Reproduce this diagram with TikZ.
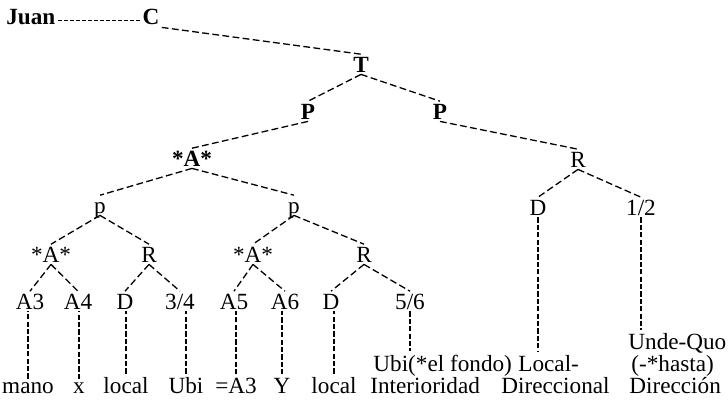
\documentclass[tikz,border=0pt]{standalone}
\usepackage{fontspec}
\setmainfont{Liberation Serif}
\begin{document}
\begin{tikzpicture}[x=0.5pt,y=-0.5pt,
  lbl/.style={font=\fontsize{11.6}{13}\selectfont, inner sep=1pt, anchor=base,
              text height=7.7pt, text depth=0pt},
  blbl/.style={lbl, font=\fontsize{11.6}{13}\selectfont\bfseries},
  word/.style={font=\fontsize{11.6}{13}\selectfont, inner sep=1.5pt},
  edge/.style={draw, line width=0.65pt, dash pattern=on 3.4pt off 1.7pt},
  drop/.style={draw, line width=0.65pt, dash pattern=on 2.6pt off 1.1pt},
  lead/.style={draw, line width=0.65pt, dash pattern=on 2pt off 1pt},
]
\path[use as bounding box] (0,0) rectangle (728,407);

% upper part of the tree (bold labels)
\node[blbl, anchor=base west] (juan) at (4,25) {Juan};
\node[blbl] (c)   at (151,25)  {C};
\node[blbl] (t)   at (361,72)  {T};
\node[blbl] (pl)  at (308,119) {P};
\node[blbl] (pr)  at (440,119) {P};
\node[blbl] (a)   at (192,166) {*A*};
\node[lbl]  (r)   at (578,167) {R};

% middle levels
\node[lbl] (ql) at (100,213) {p};
\node[lbl] (qr) at (294,213) {p};
\node[lbl] (d)  at (538,215) {D};
\node[lbl] (h12) at (641,215) {1/2};

\node[lbl] (al) at (51,262)  {*A*};
\node[lbl] (rl) at (149,262) {R};
\node[lbl] (ar) at (253,262) {*A*};
\node[lbl] (rr) at (364,262) {R};

\node[lbl] (a3)  at (30,309)  {A3};
\node[lbl] (a4)  at (78,309)  {A4};
\node[lbl] (d1)  at (125,309) {D};
\node[lbl] (h34) at (180,309) {3/4};
\node[lbl] (a5)  at (234,309) {A5};
\node[lbl] (a6)  at (285,309) {A6};
\node[lbl] (d2)  at (331,309) {D};
\node[lbl] (h56) at (410,309) {5/6};

% terminal words
\node[word, anchor=base] (mano)  at (28,393)  {mano};
\node[word, anchor=base] (xx)    at (79,393)  {x};
\node[word, anchor=base] (loc1)  at (126,393) {local};
\node[word, anchor=base] (ubi)   at (186,393) {Ubi};
\node[word, anchor=base] (eqa)   at (236,393) {=A3};
\node[word, anchor=base] (yy)    at (282,393) {Y};
\node[word, anchor=base] (loc2)  at (334,393) {local};

\node[word, anchor=base west] (ubif)  at (370,371) {Ubi(*el fondo)};
\node[word, anchor=base west] (inter) at (367,393) {Interioridad};
\node[word, anchor=base west] (locd)  at (515,371) {Local-};
\node[word, anchor=base west] (direc) at (498,393) {Direccional};
\node[word, anchor=base west] (unde)  at (625,349) {Unde-Quo};
\node[word, anchor=base west] (hasta) at (628,371) {(-*hasta)};
\node[word, anchor=base west] (dirn)  at (626,393) {Dirección};

% connectors
\draw[lead] (juan.mid east) -- (c.mid west);
\draw[edge] (c.south east) -- (t.north);
\draw[edge] (t.south) -- (pl.north);
\draw[edge] (t.south) -- (pr.north);
\draw[edge] (pl.south) -- (a.north);
\draw[edge] (pr.south) -- (r.north);
\draw[edge] (r.south) -- (d.north);
\draw[edge] (r.south) -- (h12.north);
\draw[edge] (a.south) -- (ql.north);
\draw[edge] (a.south) -- (qr.north);
\draw[edge] (ql.south) -- (al.north);
\draw[edge] (ql.south) -- (rl.north);
\draw[edge] (qr.south) -- (ar.north);
\draw[edge] (qr.south) -- (rr.north);
\draw[edge] (al.south) -- (a3.north);
\draw[edge] (al.south) -- (a4.north);
\draw[edge] (rl.south) -- (d1.north);
\draw[edge] (rl.south) -- (h34.north);
\draw[edge] (ar.south) -- (a5.north);
\draw[edge] (ar.south) -- (a6.north);
\draw[edge] (rr.south) -- (d2.north);
\draw[edge] (rr.south) -- (h56.north);

\draw[drop] (mano.north) -- (mano.north |- a3.south);
\draw[drop] (xx.north)   -- (xx.north |- a4.south);
\draw[drop] (loc1.north) -- (loc1.north |- d1.south);
\draw[drop] (ubi.north)  -- (ubi.north |- h34.south);
\draw[drop] (eqa.north)  -- (eqa.north |- a5.south);
\draw[drop] (yy.north)   -- (yy.north |- a6.south);
\draw[drop] (loc2.north) -- (loc2.north |- d2.south);
\draw[drop] (h56.south)  -- (h56.south |- ubif.north);
\draw[drop] (d.south)    -- (d.south |- locd.north);
\draw[drop] (h12.south)  -- (h12.south |- unde.north);
\end{tikzpicture}
\end{document}
